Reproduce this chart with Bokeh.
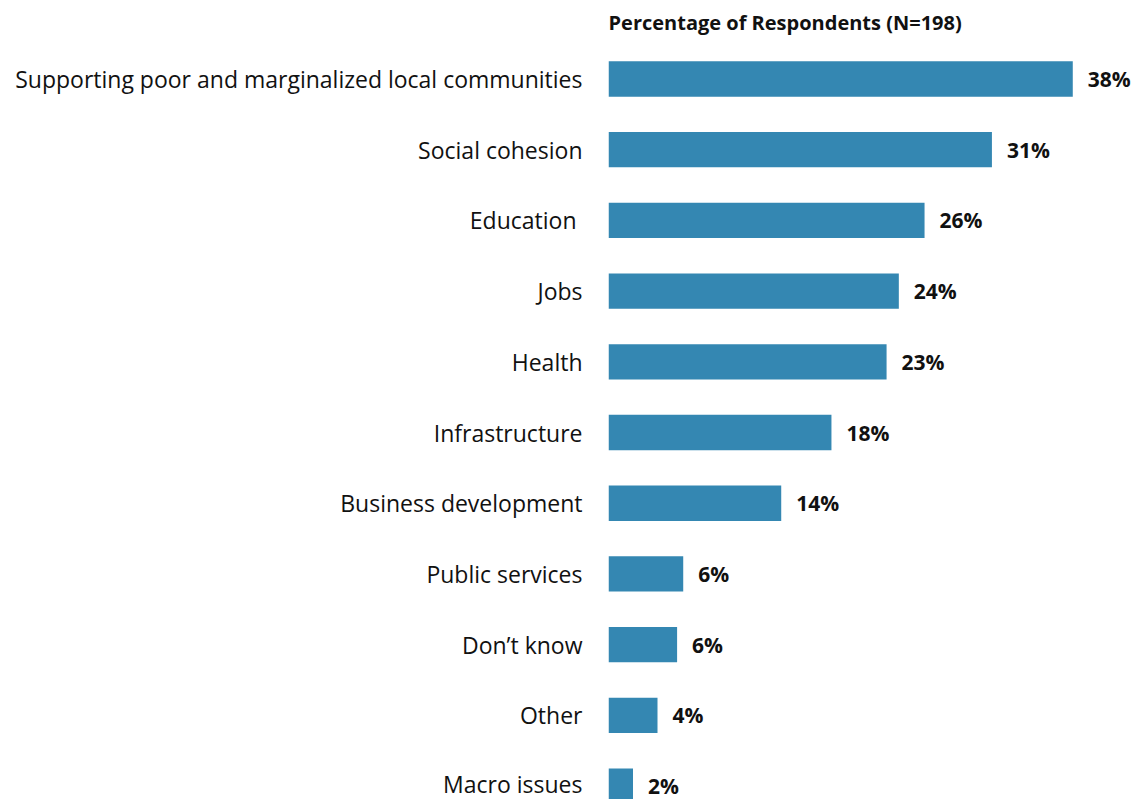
from bokeh.plotting import figure
from bokeh.models import ColumnDataSource, Range1d, FixedTicker
from bokeh.embed import file_html
from bokeh.resources import INLINE

categories = ["Supporting poor and marginalized local communities", "Social cohesion",
              "Education ", "Jobs", "Health", "Infrastructure", "Business development",
              "Public services", "Don\u2019t know", "Other", "Macro issues"]
values = [37.9, 31.3, 25.8, 23.7, 22.7, 18.2, 14.1, 6.1, 5.6, 4.0, 2.0]
value_labels = ["38%", "31%", "26%", "24%", "23%", "18%", "14%", "6%", "6%", "4%", "2%"]
title_text = "Percentage of Respondents (N=198)"

n = len(categories)
ypos = [n - 1 - i for i in range(n)]
src = ColumnDataSource(dict(cat=categories, val=values, lab=value_labels, y=ypos))

W, H = 1140, 799
left = 608
p = figure(width=W, height=H, output_backend="svg", toolbar_location=None,
           x_range=Range1d(0, (W - left) / 12.25),
           y_range=Range1d(-0.19, 10.53),
           min_border_left=left, min_border_right=0, min_border_bottom=0,
           min_border_top=40, title=title_text)

p.hbar(y="y", right="val", left=0, height=0.5, source=src,
       fill_color="#3487b2", line_color=None)
p.text(x="val", y="y", text="lab", source=src, x_offset=15, y_offset=0,
       text_baseline="middle", text_align="left", text_font_size="21px",
       text_font_style="bold", text_color="#111111",
       text_font={"value": "Open Sans"})

p.title.text_font = "Open Sans"
p.title.text_font_size = "20px"
p.title.text_font_style = "bold"
p.title.align = "left"
p.title.text_color = "#111111"
p.title.standoff = 12

p.xaxis.visible = False
p.yaxis.ticker = FixedTicker(ticks=ypos)
p.yaxis.major_label_overrides = {y: c for y, c in zip(ypos, categories)}
p.yaxis.axis_line_color = None
p.yaxis.major_tick_line_color = None
p.yaxis.minor_tick_line_color = None
p.yaxis.major_label_standoff = 20
p.yaxis.major_label_text_font = "Open Sans"
p.yaxis.major_label_text_font_size = "23px"
p.yaxis.major_label_text_color = "#111111"
p.xgrid.visible = False
p.ygrid.visible = False
p.outline_line_color = None

open("out.html", "w").write(file_html(p, INLINE))
